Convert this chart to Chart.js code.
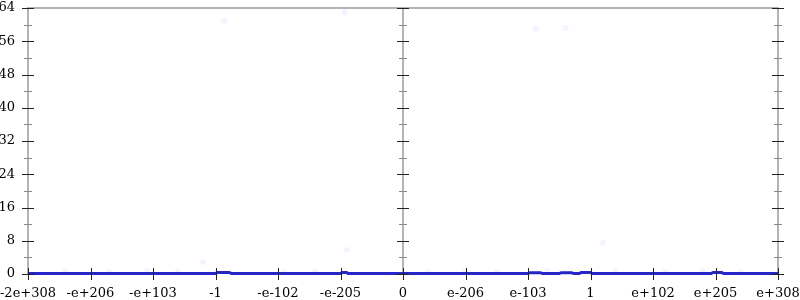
<!DOCTYPE html>
<html lang="en">
<head>
    <meta charset="UTF-8">
    <title>Float histogram</title>
    <style>
        body { margin: 0; background: #fff; }
        #wrap { width: 800px; height: 300px; }
    </style>
</head>
<body>
    <div id="wrap">
        <canvas id="myChart" width="800" height="300"></canvas>
    </div>

    <script src="https://cdn.jsdelivr.net/npm/chart.js"></script>

    <script>
        // x axis: one unit per labelled tick, 0 in the middle
        const xTickLabels = ['-2e+308', '-e+206', '-e+103', '-1', '-e-102', '-e-205', '0',
                             'e-206', 'e-103', '1', 'e+102', 'e+205', 'e+308'];
        const yMax = 64;
        const yStep = 8;

        // histogram line (almost flat with a few small bumps)
        const lineX = [-6, -3.0, -2.97, -2.78, -2.74, -1.0, -0.97, -0.9, -0.88,
                       2.0, 2.03, 2.2, 2.23, 2.5, 2.53, 2.7, 2.73, 2.82, 2.85, 3.0, 3.03,
                       4.93, 4.96, 5.1, 5.13, 6];
        const lineY = [0.1, 0.1, 0.35, 0.35, 0.1, 0.1, 0.35, 0.35, 0.1,
                       0.1, 0.3, 0.3, 0.1, 0.1, 0.3, 0.3, 0.1, 0.1, 0.35, 0.35, 0.1,
                       0.1, 0.35, 0.35, 0.1, 0.1];

        // faint sample points
        const dotX = [-2.86, -0.93, 2.12, 2.6, 3.2, -3.2, -0.9, -5.4, -4.7, -4.1, -3.6, -1.9, -1.4,
                      0.4, 1.0, 1.5, 2.3, 3.4, 4.2, 4.8, 5.4];
        const dotY = [60.9, 63.0, 59.0, 59.2, 7.5, 2.9, 5.8, 0.6, 0.5, 0.7, 0.6, 0.5, 0.6,
                      0.5, 0.6, 0.5, 0.7, 0.6, 0.5, 0.6, 0.5];

        const axisGray = '#b4b4b4';

        const frame = {
            id: 'frame',
            beforeDatasetsDraw(chart) {
                const { ctx, chartArea: a, scales: { x } } = chart;
                const x0 = x.getPixelForValue(0);
                ctx.save();
                ctx.strokeStyle = axisGray;
                ctx.lineWidth = 2;
                ctx.beginPath();
                ctx.moveTo(a.left, a.bottom);
                ctx.lineTo(a.left, a.top);
                ctx.lineTo(a.right, a.top);
                ctx.lineTo(a.right, a.bottom);
                ctx.moveTo(x0, a.top);
                ctx.lineTo(x0, a.bottom);
                ctx.stroke();
                ctx.restore();
            },
            afterDatasetsDraw(chart) {
                const { ctx, chartArea: a, scales: { x, y } } = chart;
                const cols = [a.left, x.getPixelForValue(0), a.right];
                ctx.save();
                ctx.lineWidth = 1;
                // y ticks, major and minor
                for (let v = 0; v <= yMax; v += yStep / 2) {
                    const py = Math.round(y.getPixelForValue(v)) + 0.5;
                    const major = v % yStep === 0;
                    const half = major ? 6 : 4;
                    ctx.strokeStyle = major ? '#222' : '#888';
                    cols.forEach(px => {
                        ctx.beginPath();
                        ctx.moveTo(px - half, py);
                        ctx.lineTo(px + half, py);
                        ctx.stroke();
                    });
                }
                // x ticks on the bottom
                ctx.strokeStyle = '#222';
                xTickLabels.forEach((_, i) => {
                    const px = Math.round(x.getPixelForValue(i - 6)) + 0.5;
                    ctx.beginPath();
                    ctx.moveTo(px, a.bottom - 6);
                    ctx.lineTo(px, a.bottom + 6);
                    ctx.stroke();
                });
                ctx.restore();
            }
        };

        const data = {
            datasets: [{
                type: 'scatter',
                data: dotX.map((v, i) => ({ x: v, y: dotY[i] })),
                pointRadius: 3,
                pointBorderWidth: 0,
                pointBackgroundColor: 'rgba(60,60,255,0.06)',
                order: 2
            }, {
                type: 'line',
                data: lineX.map((v, i) => ({ x: v, y: lineY[i] })),
                borderColor: '#2626c8',
                borderWidth: 3,
                pointRadius: 0,
                tension: 0,
                clip: false,
                order: 1
            }]
        };

        const font = { family: 'DejaVu Serif', size: 13 };

        const config = {
            type: 'scatter',
            data: data,
            plugins: [frame],
            options: {
                responsive: false,
                animation: false,
                events: [],
                layout: { padding: { top: 8, right: 22, left: 0, bottom: 0 } },
                plugins: { legend: { display: false }, tooltip: { enabled: false } },
                scales: {
                    x: {
                        type: 'linear',
                        min: -6,
                        max: 6,
                        grid: { display: false },
                        border: { display: false },
                        ticks: {
                            stepSize: 1,
                            autoSkip: false,
                            maxRotation: 0,
                            padding: 4,
                            color: '#000',
                            font: font,
                            callback: (v) => xTickLabels[v + 6]
                        },
                        afterFit: (s) => {
                            s.height = 26;
                            s.paddingLeft = 0;
                            s.paddingRight = 0;
                        }
                    },
                    y: {
                        min: 0,
                        max: yMax,
                        grid: { display: false },
                        border: { display: false },
                        ticks: {
                            stepSize: yStep,
                            padding: 5,
                            color: '#000',
                            font: font
                        },
                        afterFit: (s) => {
                            s.width = 28;
                            s.paddingTop = 0;
                            s.paddingBottom = 0;
                        }
                    }
                }
            }
        };

        new Chart(document.getElementById('myChart'), config);
    </script>
</body>
</html>
